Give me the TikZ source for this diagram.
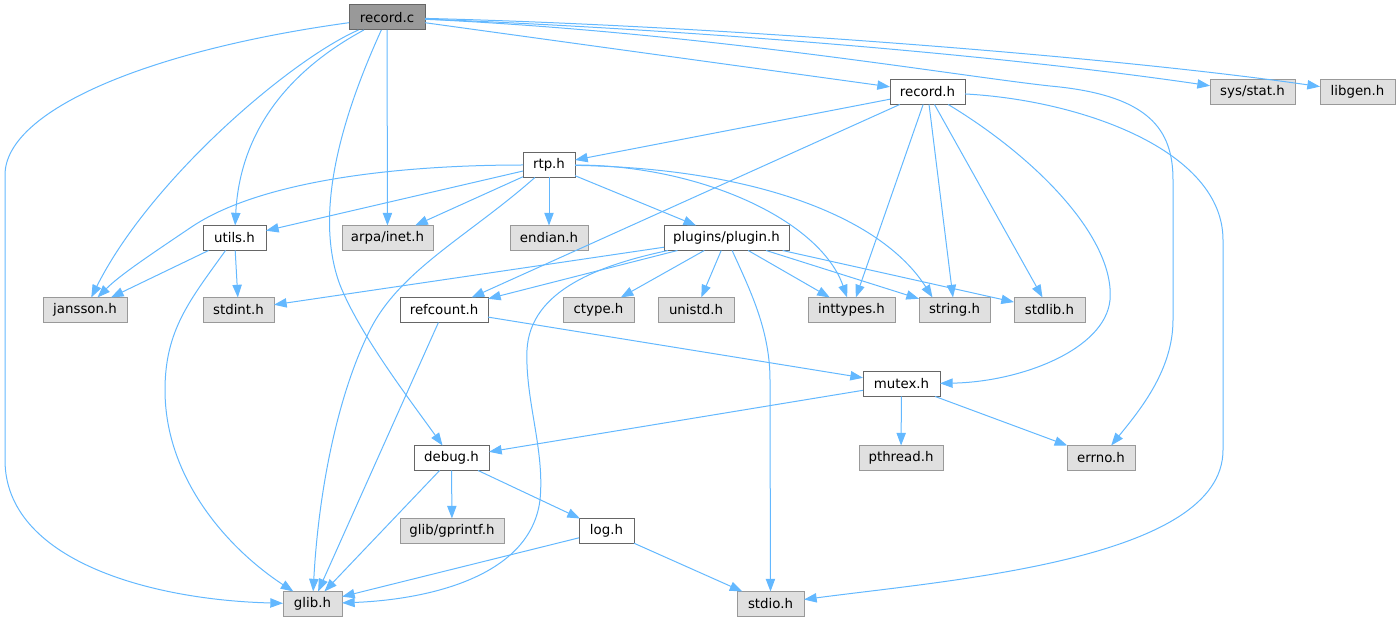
\documentclass[tikz,border=0pt]{standalone}
\usepackage{fontspec}
\setmainfont{DejaVu Sans}
\usetikzlibrary{arrows.meta}
\definecolor{edgec}{HTML}{63B8FF}
\definecolor{gfill}{HTML}{E0E0E0}
\definecolor{gborder}{HTML}{999999}
\definecolor{wborder}{HTML}{666666}
\definecolor{rootfill}{HTML}{999999}
\begin{document}
\begin{tikzpicture}[x=0.75pt,y=-0.75pt,
  box/.style={rectangle, line width=0.75pt, minimum height=18.75pt, inner sep=0pt, outer sep=0pt, font=\fontsize{10pt}{12pt}\selectfont, text=black},
  docbox/.style={box, draw=wborder, fill=white},
  extbox/.style={box, draw=gborder, fill=gfill},
  rootbox/.style={box, draw=wborder, fill=rootfill},
  wd/.style={minimum width=#1*0.75pt},
  dep/.style={draw=edgec, line width=0.75pt, -{Triangle[length=9.5pt,width=7pt]}}]
\useasboundingbox (0,0) rectangle (1400,623);
% row 1
\node[rootbox, wd=76] (recc) at (387,17.5) {record.c};
% row 2
\node[docbox, wd=75] (rech) at (927.5,92) {record.h};
\node[extbox, wd=85] (sysstat) at (1252.5,92) {sys/stat.h};
\node[extbox, wd=75] (libgen) at (1357.5,92) {libgen.h};
% row 3
\node[docbox, wd=52] (rtp) at (549,165) {rtp.h};
% row 4
\node[docbox, wd=63] (utils) at (234.5,238) {utils.h};
\node[extbox, wd=91] (arpa) at (387.5,238) {arpa/inet.h};
\node[extbox, wd=78] (endian) at (549,238) {endian.h};
\node[docbox, wd=125] (plugin) at (726.5,238) {plugins/plugin.h};
% row 5
\node[extbox, wd=84] (jansson) at (85,310) {jansson.h};
\node[extbox, wd=71] (stdint) at (238.5,310) {stdint.h};
\node[docbox, wd=88] (refc) at (444,310) {refcount.h};
\node[extbox, wd=71] (ctype) at (598.5,310) {ctype.h};
\node[extbox, wd=76] (unistd) at (696,310) {unistd.h};
\node[extbox, wd=87] (intt) at (851.5,310) {inttypes.h};
\node[extbox, wd=71] (strh) at (954.5,310) {string.h};
\node[extbox, wd=71] (stdlib) at (1049.5,310) {stdlib.h};
% row 6
\node[docbox, wd=77] (mutex) at (901.5,384) {mutex.h};
% row 7
\node[docbox, wd=75] (debug) at (451.5,458) {debug.h};
\node[extbox, wd=84] (pthread) at (901,458) {pthread.h};
\node[extbox, wd=68] (errno) at (1101,458) {errno.h};
% row 8
\node[extbox, wd=104] (gprintf) at (452,531) {glib/gprintf.h};
\node[docbox, wd=55] (logh) at (606.5,531) {log.h};
% row 9
\node[extbox, wd=59] (glib) at (312.5,604) {glib.h};
\node[extbox, wd=67] (stdio) at (770.5,604) {stdio.h};

% edges from record.c
\draw[dep] (recc) .. controls (150,50) and (5,110) .. (5,175) -- (5,460) .. controls (5,560) and (150,600) .. (glib);
\draw[dep] (recc) .. controls (290,60) and (150,180) .. (jansson);
\draw[dep] (recc) .. controls (290,70) and (240,130) .. (utils);
\draw[dep] (recc) .. controls (345,110) and (312,210) .. (340,285) .. controls (360,335) and (410,400) .. (debug);
\draw[dep] (recc) -- (arpa);
\draw[dep] (recc) -- (rech);
\draw[dep] (recc) .. controls (700,30) and (1000,55) .. (sysstat);
\draw[dep] (recc) .. controls (700,25) and (1100,55) .. (libgen);
\draw[dep] (recc) .. controls (700,32) and (950,75) .. (1050,86) .. controls (1150,95) and (1173,130) .. (1173,180) -- (1173,320) .. controls (1173,370) and (1140,410) .. (errno);
% edges from record.h
\draw[dep] (rech) -- (rtp);
\draw[dep] (rech) -- (refc);
\draw[dep] (rech) -- (intt);
\draw[dep] (rech) -- (strh);
\draw[dep] (rech) -- (stdlib);
\draw[dep] (rech) .. controls (1040,160) and (1115,240) .. (1110,300) .. controls (1105,350) and (1020,382) .. (mutex);
\draw[dep] (rech) .. controls (1080,100) and (1223,150) .. (1223,240) -- (1223,450) .. controls (1223,560) and (950,580) .. (stdio);
% edges from rtp.h
\draw[dep] (rtp) .. controls (400,165) and (260,180) .. (190,228) .. controls (150,255) and (120,275) .. (jansson);
\draw[dep] (rtp) -- (utils);
\draw[dep] (rtp) -- (arpa);
\draw[dep] (rtp) .. controls (470,235) and (400,270) .. (370,330) .. controls (335,400) and (318,500) .. (glib);
\draw[dep] (rtp) -- (endian);
\draw[dep] (rtp) -- (plugin);
\draw[dep] (rtp) .. controls (700,165) and (820,220) .. (intt);
\draw[dep] (rtp) .. controls (750,168) and (880,215) .. ([xshift=-16.5pt]strh.north);
% edges from plugins/plugin.h
\draw[dep] (plugin) -- (stdint);
\draw[dep] (plugin) -- (refc);
\draw[dep] (plugin) .. controls (600,265) and (530,290) .. (527,350) .. controls (525,400) and (545,450) .. (540,500) .. controls (530,580) and (420,600) .. (glib);
\draw[dep] (plugin) -- (ctype);
\draw[dep] (plugin) -- (unistd);
\draw[dep] (plugin) .. controls (750,290) and (770,330) .. (770,380) -- (stdio);
\draw[dep] (plugin) -- (intt);
\draw[dep] (plugin) -- (strh);
\draw[dep] (plugin) -- (stdlib);
% edges from utils.h
\draw[dep] (utils) -- (jansson);
\draw[dep] (utils) -- (stdint);
\draw[dep] (utils) .. controls (190,300) and (165,330) .. (165,390) .. controls (165,480) and (230,550) .. (glib);
% edges from refcount.h
\draw[dep] (refc) -- (glib);
\draw[dep] (refc) -- (mutex);
% edges from mutex.h
\draw[dep] (mutex) -- (debug);
\draw[dep] (mutex) -- (pthread);
\draw[dep] (mutex) -- (errno);
% edges from debug.h
\draw[dep] (debug) -- (glib);
\draw[dep] (debug) -- (gprintf);
\draw[dep] (debug) -- (logh);
% edges from log.h
\draw[dep] (logh) -- (glib);
\draw[dep] (logh) -- (stdio);
\end{tikzpicture}
\end{document}
